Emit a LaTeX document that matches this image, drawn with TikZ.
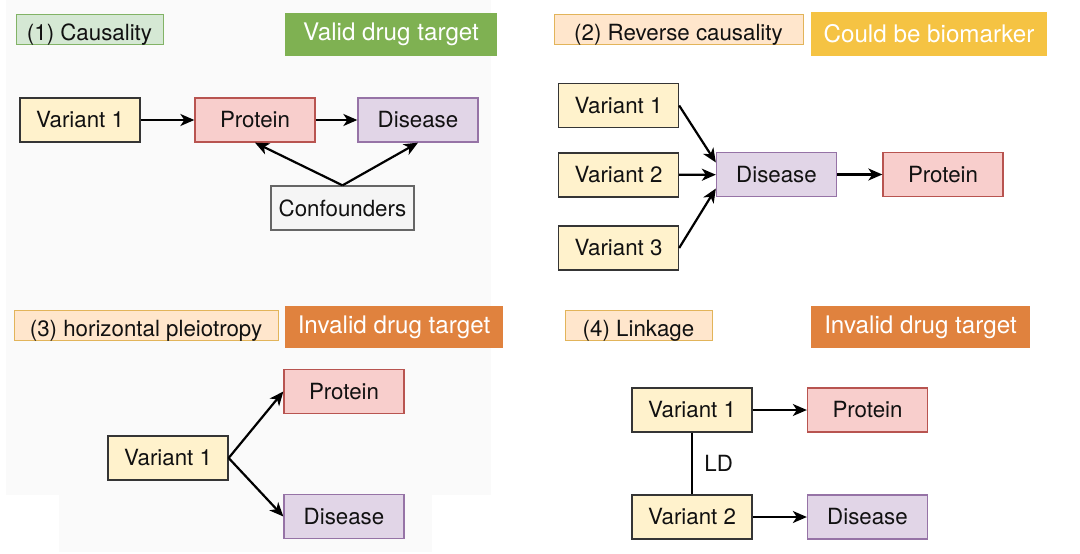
\documentclass[tikz,border=0pt]{standalone}
\usepackage{fontspec}
\setmainfont{TeX Gyre Heros}
\usepackage{tikz}
\usetikzlibrary{arrows.meta, positioning}
\definecolor{bgGrey}{HTML}{FAFAFA}
\definecolor{variantFill}{HTML}{FFF2CC}
\definecolor{proteinFill}{HTML}{F8CECC}
\definecolor{proteinLine}{HTML}{B85450}
\definecolor{diseaseFill}{HTML}{E1D5E7}
\definecolor{diseaseLine}{HTML}{9673A6}
\definecolor{confFill}{HTML}{F5F5F5}
\definecolor{confLine}{HTML}{666666}
\definecolor{greenFill}{HTML}{D5E8D4}
\definecolor{greenLine}{HTML}{82B366}
\definecolor{orangeFill}{HTML}{FFE6CC}
\definecolor{orangeLine}{HTML}{E2B45A}
\definecolor{tagGreen}{HTML}{7FB152}
\definecolor{tagYellow}{HTML}{F5C343}
\definecolor{tagOrange}{HTML}{E0823E}
\definecolor{inkDark}{HTML}{111111}

\begin{document}
\begin{tikzpicture}[
  x=1pt, y=-1pt,
  font=\fontsize{22.3}{26}\selectfont, text=inkDark,
  base/.style={rectangle, line width=1.3pt, minimum width=120pt, minimum height=44pt, inner sep=0pt, align=center},
  variant/.style={base, draw=inkDark!85, fill=variantFill},
  protein/.style={base, draw=proteinLine, fill=proteinFill},
  disease/.style={base, draw=diseaseLine, fill=diseaseFill},
  conf/.style={base, draw=confLine, fill=confFill, minimum width=143pt},
  titleG/.style={rectangle, line width=1pt, draw=greenLine, fill=greenFill, minimum height=30pt, inner sep=0pt, text height=24pt, text depth=2pt},
  titleO/.style={rectangle, line width=1pt, draw=orangeLine, fill=orangeFill, minimum height=30pt, inner sep=0pt, text height=24pt, text depth=2pt},
  tag/.style={rectangle, text=white, font=\fontsize{24.2}{28}\selectfont, minimum height=43pt, inner sep=0pt},
  a/.style={-{Stealth[length=14pt, width=12pt, inset=4pt]}, line width=2.2pt, draw=black}
]
\useasboundingbox (0,0) rectangle (1080,554);
% faint screenshot background
\fill[bgGrey] (6,0) rectangle (491,495);
\fill[bgGrey] (59,495) rectangle (432,552);

% (1) causality
\node[titleG, minimum width=147pt] (t1) at (89.5,29) {(1) Causality};
\node[tag, fill=tagGreen, minimum width=212pt] (tag1) at (391,34) {Valid drug target};
\node[variant] (v1) at (80,120) {Variant 1};
\node[protein] (prot1) at (255,120) {Protein};
\node[disease] (dis1) at (418,120) {Disease};
\node[conf] (conf) at (342.5,208) {Confounders};
\draw[a] (v1) -- (prot1);
\draw[a] (prot1) -- (dis1);
\draw[a] (conf.north) -- (prot1.south);
\draw[a] (conf.north) -- (dis1.south);

% (2) reverse causality
\node[titleO, minimum width=249pt] (t2) at (678.5,29) {(2) Reverse causality};
\node[tag, fill=tagYellow, minimum width=236pt, minimum height=44pt] (tag2) at (929,34) {Could be biomarker};
\node[variant] (v21) at (618.5,105.5) {Variant 1};
\node[variant] (v22) at (618.5,175) {Variant 2};
\node[variant] (v23) at (618.5,248) {Variant 3};
\node[disease] (dis2) at (776.5,174.5) {Disease};
\node[protein] (prot2) at (943,174.5) {Protein};
\draw[a] (v21.east) -- ([yshift=12pt]dis2.west);
\draw[a] (v22) -- (dis2);
\draw[a] (v23.east) -- ([yshift=-14pt]dis2.west);
\draw[a] (dis2) -- (prot2);

% (3) horizontal pleiotropy
\node[titleO, minimum width=264pt] (t3) at (146,325) {(3) horizontal pleiotropy};
\node[tag, fill=tagOrange, minimum width=218pt, minimum height=42pt] (tag3) at (394,327) {Invalid drug target};
\node[variant] (v31) at (168,458) {Variant 1};
\node[protein] (prot3) at (344,391.5) {Protein};
\node[disease] (dis3) at (344,516.5) {Disease};
\draw[a] (v31.east) -- (prot3.west);
\draw[a] (v31.east) -- (dis3.west);

% (4) linkage
\node[titleO, minimum width=147pt] (t4) at (638.5,325) {(4) Linkage};
\node[tag, fill=tagOrange, minimum width=219pt, minimum height=42pt] (tag4) at (920.5,327) {Invalid drug target};
\node[variant] (v41) at (692,410) {Variant 1};
\node[protein] (prot4) at (867.5,410) {Protein};
\node[variant] (v42) at (692,517) {Variant 2};
\node[disease] (dis4) at (867.5,517) {Disease};
\draw[a] (v41) -- (prot4);
\draw[a] (v42) -- (dis4);
\draw[line width=2.2pt] (v41.south) -- node[right=8pt] (ld) {LD} (v42.north);
\end{tikzpicture}
\end{document}
